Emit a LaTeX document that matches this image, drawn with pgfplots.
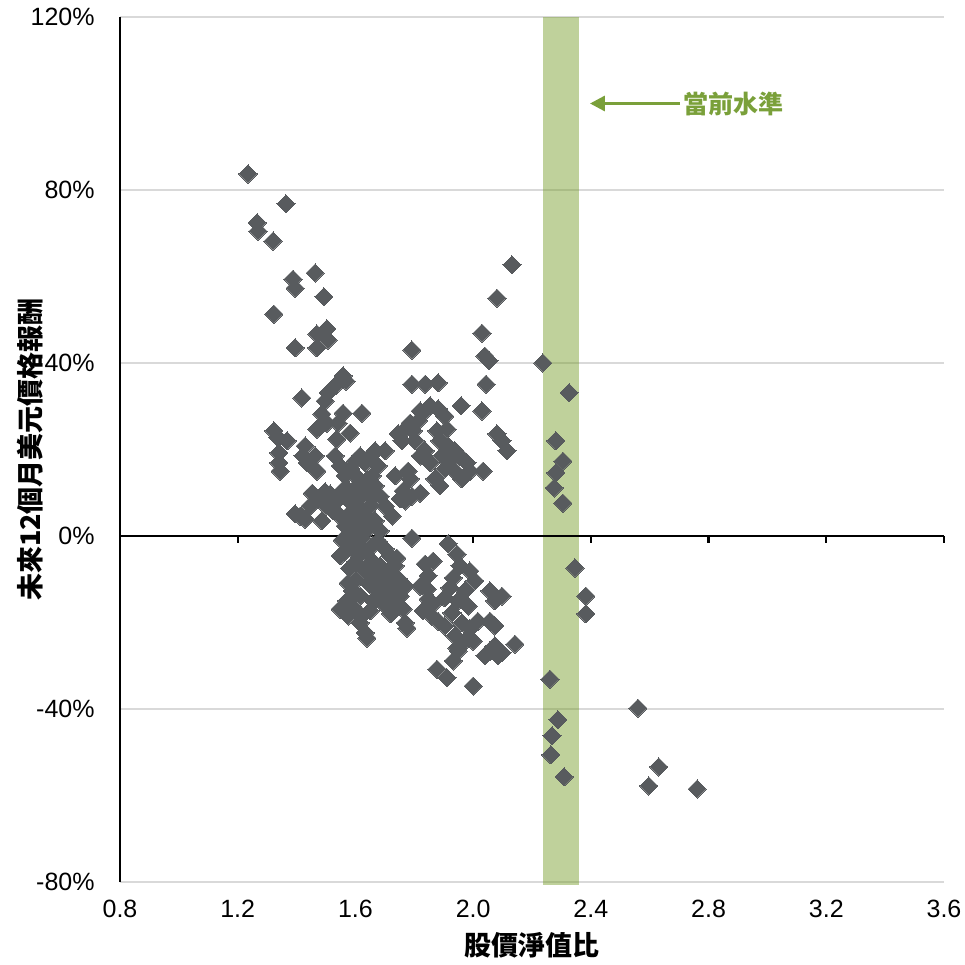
\documentclass[border=0pt]{standalone}
\usepackage{fontspec}
\setmainfont{Liberation Sans}
\newfontfamily\cjk{Noto Sans CJK TC}
\usepackage{pgfplots}
\pgfplotsset{compat=1.18}
\usepackage{pgfplotstable}
\usetikzlibrary{arrows.meta}
\definecolor{pt}{HTML}{585B5E}
\definecolor{band}{RGB}{119,157,42}
\definecolor{arrowg}{HTML}{7AA03A}
\definecolor{gridc}{HTML}{D9D9D9}

\pgfplotstableread{
x y
1.235 83.7
1.364 76.8
1.266 72.4
1.269 70.5
1.320 68.2
1.463 60.8
1.388 59.4
1.395 57.3
1.493 55.3
1.323 51.3
1.469 46.7
1.503 47.9
1.507 45.3
1.395 43.5
1.469 43.5
1.792 43.0
1.418 31.9
1.558 37.0
1.531 34.7
1.507 33.1
1.497 31.2
1.568 35.8
1.622 28.4
1.486 28.2
1.558 28.4
1.541 26.1
1.469 24.7
1.582 23.8
1.503 26.1
1.537 22.4
1.323 24.3
1.337 22.7
1.340 19.2
1.340 16.9
1.344 15.0
1.368 22.0
1.395 5.1
1.412 4.6
1.422 18.5
1.429 20.8
1.436 16.9
1.446 6.9
1.429 3.9
1.480 25.4
1.463 18.5
1.469 15.0
1.453 9.9
1.473 8.6
1.497 10.2
1.514 9.7
1.500 6.9
1.486 3.5
1.524 5.8
1.537 8.1
1.548 4.6
1.555 10.4
1.531 18.5
1.548 16.2
1.565 13.9
1.582 15.5
1.599 17.3
1.616 18.5
1.633 16.9
1.650 18.5
1.667 19.7
1.677 16.2
1.657 13.9
1.616 12.7
1.589 10.4
1.571 8.6
1.599 6.9
1.622 9.2
1.643 10.9
1.667 11.6
1.684 9.2
1.701 6.9
1.725 4.6
1.650 6.9
1.633 4.6
1.609 3.5
1.582 5.3
1.565 2.3
1.599 1.2
1.622 -0.5
1.643 1.6
1.667 3.5
1.684 1.2
1.657 -2.3
1.633 -3.5
1.609 -2.3
1.582 -1.2
1.565 -3.5
1.548 -4.6
1.677 -1.2
1.701 -3.0
1.718 -4.6
1.735 -6.9
1.711 -8.1
1.684 -6.9
1.657 -5.8
1.745 -9.9
1.725 -12.7
1.752 -13.9
1.769 -11.6
1.735 -15.0
1.762 -16.9
1.769 -20.1
1.701 -10.4
1.673 -12.7
1.575 -10.9
1.599 -10.4
1.589 -12.7
1.616 -13.9
1.571 -15.0
1.548 -16.9
1.575 -18.5
1.602 -17.3
1.616 -20.1
1.633 -22.4
1.622 -18.5
1.650 -17.3
1.639 -23.6
1.775 -21.3
1.590 0.5
1.600 -6.0
1.630 -8.0
1.610 -4.5
1.580 3.0
1.620 6.0
1.640 13.0
1.600 14.0
1.570 11.0
1.655 9.0
1.670 -9.0
1.645 -11.0
1.690 -14.0
1.700 -16.0
1.720 -18.0
1.660 -15.0
1.580 -7.5
1.555 -1.0
1.701 19.7
1.735 13.9
1.762 10.4
1.779 15.0
1.758 22.0
1.745 23.6
1.769 24.7
1.786 26.1
1.796 24.3
1.813 26.6
1.837 28.9
1.854 30.1
1.820 28.9
1.803 22.0
1.820 18.5
1.837 19.7
1.792 9.2
1.769 8.1
1.820 9.9
1.752 8.6
1.786 13.2
1.854 16.9
1.881 29.4
1.904 27.7
1.877 24.3
1.911 24.7
1.887 22.0
1.915 20.8
1.894 18.5
1.921 17.3
1.938 19.7
1.955 18.5
1.904 15.5
1.938 15.0
1.962 13.2
1.979 16.9
1.989 15.0
1.887 11.6
1.870 13.2
1.792 35.1
1.837 35.1
1.881 35.4
1.959 30.1
2.030 28.9
2.030 46.9
2.040 41.6
2.054 40.5
2.044 35.1
2.081 23.6
2.098 22.0
2.115 19.7
2.034 15.0
2.132 62.7
2.081 55.0
1.792 -0.5
1.741 -5.1
1.837 -6.5
1.864 -5.8
1.847 -9.2
1.820 -11.6
1.844 -12.3
1.847 -14.6
1.864 -15.7
1.830 -17.3
1.860 -18.5
1.881 -19.7
1.904 -20.8
1.915 -1.8
1.945 -4.2
1.955 -6.9
1.932 -9.7
1.921 -12.0
1.904 -14.3
1.877 -30.8
1.911 -32.8
1.932 -28.9
1.949 -26.6
1.972 -24.3
1.989 -21.5
2.000 -24.3
2.016 -19.7
2.000 -34.7
2.040 -27.7
2.057 -26.6
2.084 -27.7
2.074 -25.4
2.057 -19.7
2.074 -20.8
2.057 -12.7
2.074 -15.0
1.989 -8.1
2.006 -10.4
1.972 -12.7
1.949 -15.0
1.928 -17.8
1.983 -16.2
1.962 -20.1
1.938 -23.1
1.945 -25.9
2.098 -13.9
2.098 -27.0
2.142 -25.0
2.237 40.0
2.326 33.1
2.281 22.0
2.305 17.3
2.281 14.6
2.275 11.1
2.305 7.6
2.346 -7.4
2.383 -13.9
2.383 -18.0
2.261 -33.1
2.288 -42.5
2.268 -46.2
2.264 -50.6
2.309 -55.7
2.560 -39.8
2.631 -53.4
2.597 -57.8
2.761 -58.5
}\pts

\begin{document}
\begin{tikzpicture}
\begin{axis}[
  width=412pt, height=432.5pt, scale only axis,
  xmin=0.8, xmax=3.6, ymin=-80, ymax=120,
  axis line style={draw=none},
  xtick={0.8,1.2,1.6,2.0,2.4,2.8,3.2,3.6},
  xticklabels={0.8,1.2,1.6,2.0,2.4,2.8,3.2,3.6},
  ytick={-80,-40,0,40,80,120},
  yticklabels={-80\%,-40\%,0\%,40\%,80\%,120\%},
  major tick length=0pt,
  ymajorgrids, grid style={gridc, line width=0.9pt},
  ticklabel style={font=\fontsize{12.5}{15}\selectfont, text=black},
  xticklabel style={inner sep=0pt, anchor=north, yshift=-9pt},
  yticklabel style={inner sep=0pt, anchor=east, xshift=-12.5pt},
  xlabel={\cjk\bfseries 股價淨值比},
  ylabel={\cjk\bfseries 未來12個月美元價格報酬},
  xlabel style={at={(axis description cs:0.5,-0.0728)}, anchor=center, font=\fontsize{13.5}{16}\selectfont},
  ylabel style={at={(axis description cs:-0.109,0.5)}, anchor=center, font=\fontsize{13.5}{16}\selectfont},
  clip=false,
]
\addplot[only marks, color=pt, mark=square*, mark size=3.2pt, mark options={rotate=45, fill=pt, draw=pt, line width=0pt}] table {\pts};
\fill[band, opacity=0.47] (axis cs:2.237,-80.7) rectangle (axis cs:2.36,120);
\draw[black, line width=1.3pt] (axis cs:0.8,-80) -- (axis cs:0.8,120);
\draw[black, line width=1.3pt] (axis cs:0.8,0) -- (axis cs:3.6,0);
\pgfplotsinvokeforeach{1.2,1.6,2.0,2.4,2.8,3.2,3.6}{\draw[black, line width=1.1pt] (axis cs:#1,0) -- ([yshift=-3.5pt]axis cs:#1,0);}
\draw[arrowg, line width=1.6pt, -{Triangle[length=7.5pt,width=7.5pt]}] (axis cs:2.703,100) -- (axis cs:2.397,100);
\node[anchor=west, inner sep=0pt, text=arrowg, font=\cjk\bfseries\fontsize{12.5}{14}\selectfont] at (axis cs:2.715,100) {當前水準};
\coordinate (sw) at (rel axis cs:0,0);
\coordinate (ne) at (rel axis cs:1,1);
\end{axis}
\pgfresetboundingbox
\path ([shift={(-60pt,-41.5pt)}]sw) rectangle ([shift={(10.5pt,8.5pt)}]ne);
\end{tikzpicture}
\end{document}
